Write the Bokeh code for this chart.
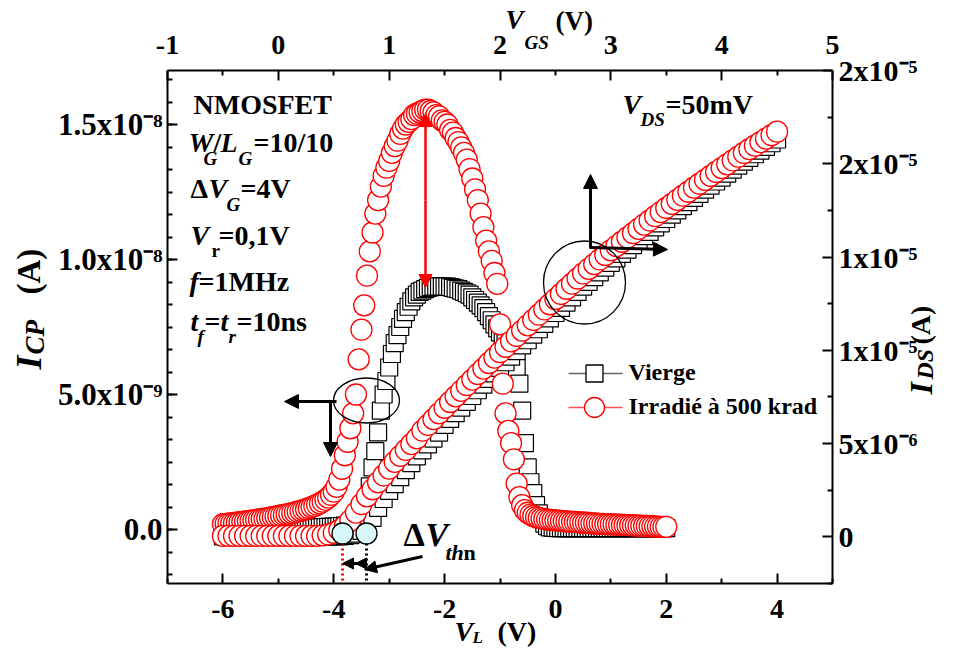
import math
from bokeh.plotting import figure
from bokeh.models import Range1d, LinearAxis, FixedTicker, Label, Arrow, NormalHead
from bokeh.embed import file_html
from bokeh.resources import INLINE

FONT = "Liberation Serif"

# ---------------- data ----------------
# charge pumping current I_CP (nA) vs V_L (V)
VL_CP = [
    -6.0, -5.95, -5.9, -5.85, -5.8, -5.75, -5.7, -5.65, -5.6, -5.55,
    -5.5, -5.45, -5.4, -5.35, -5.3, -5.25, -5.2, -5.15, -5.1, -5.05,
    -5.0, -4.95, -4.9, -4.85, -4.8, -4.75, -4.7, -4.65, -4.6, -4.55,
    -4.5, -4.45, -4.4, -4.35, -4.3, -4.25, -4.2, -4.15, -4.1, -4.05,
    -4.0, -3.95, -3.9, -3.85, -3.8, -3.75, -3.7, -3.65, -3.6, -3.55,
    -3.5, -3.45, -3.4, -3.35, -3.3, -3.25, -3.2, -3.15, -3.1, -3.05,
    -3.0, -2.95, -2.9, -2.85, -2.8, -2.75, -2.7, -2.65, -2.6, -2.55,
    -2.5, -2.45, -2.4, -2.35, -2.3, -2.25, -2.2, -2.15, -2.1, -2.05,
    -2.0, -1.95, -1.9, -1.85, -1.8, -1.75, -1.7, -1.65, -1.6, -1.55,
    -1.5, -1.45, -1.4, -1.35, -1.3, -1.25, -1.2, -1.15, -1.1, -1.05,
    -1.0, -0.95, -0.9, -0.85, -0.8, -0.75, -0.7, -0.65, -0.6, -0.55,
    -0.5, -0.45, -0.4, -0.35, -0.3, -0.25, -0.2, -0.15, -0.1, -0.05,
    0.0, 0.05, 0.1, 0.15, 0.2, 0.25, 0.3, 0.35, 0.4, 0.45,
    0.5, 0.55, 0.6, 0.65, 0.7, 0.75, 0.8, 0.85, 0.9, 0.95,
    1.0, 1.05, 1.1, 1.15, 1.2, 1.25, 1.3, 1.35, 1.4, 1.45,
    1.5, 1.55, 1.6, 1.65, 1.7, 1.75, 1.8, 1.85, 1.9, 1.95,
    2.0]

ICP_IRR = [
    0.20, 0.21, 0.22, 0.23, 0.24, 0.25, 0.27, 0.28, 0.30, 0.31,
    0.33, 0.34, 0.36, 0.37, 0.39, 0.40, 0.42, 0.44, 0.46, 0.48,
    0.50, 0.52, 0.54, 0.56, 0.58, 0.61, 0.63, 0.66, 0.69, 0.72,
    0.75, 0.79, 0.83, 0.87, 0.92, 0.97, 1.03, 1.10, 1.18, 1.28,
    1.40, 1.58, 1.85, 2.25, 2.75, 3.25, 3.75, 4.30, 5.00, 6.30,
    7.40, 8.30, 9.40, 10.30, 11.00, 11.70, 12.20, 12.70, 13.10, 13.40,
    13.65, 13.95, 14.20, 14.40, 14.65, 14.85, 15.00, 15.10, 15.20, 15.35,
    15.40, 15.45, 15.50, 15.55, 15.55, 15.50, 15.45, 15.35, 15.30, 15.15,
    15.10, 15.00, 14.80, 14.70, 14.50, 14.35, 14.15, 13.95, 13.70, 13.35,
    13.00, 12.60, 12.20, 11.70, 11.20, 10.70, 10.30, 9.95, 9.50, 9.10,
    7.60, 5.40, 4.30, 3.65, 3.20, 2.60, 1.70, 1.20, 0.90, 0.72,
    0.62, 0.55, 0.50, 0.46, 0.43, 0.41, 0.39, 0.37, 0.36, 0.35,
    0.34, 0.33, 0.32, 0.31, 0.30, 0.29, 0.28, 0.28, 0.27, 0.26,
    0.25, 0.25, 0.24, 0.23, 0.23, 0.22, 0.21, 0.21, 0.20, 0.20,
    0.19, 0.19, 0.18, 0.18, 0.17, 0.17, 0.16, 0.16, 0.15, 0.15,
    0.14, 0.14, 0.13, 0.13, 0.12, 0.12, 0.11, 0.11, 0.10, 0.10,
    0.10]

ICP_VIERGE = [
    0.05, 0.05, 0.05, 0.05, 0.05, 0.05, 0.05, 0.05, 0.05, 0.05,
    0.05, 0.05, 0.05, 0.05, 0.05, 0.05, 0.05, 0.05, 0.05, 0.05,
    0.05, 0.05, 0.05, 0.05, 0.05, 0.05, 0.05, 0.05, 0.05, 0.05,
    0.06, 0.06, 0.07, 0.07, 0.08, 0.08, 0.09, 0.09, 0.10, 0.10,
    0.11, 0.11, 0.12, 0.13, 0.14, 0.15, 0.17, 0.19, 0.22, 0.28,
    0.38, 0.60, 1.00, 1.60, 2.30, 2.90, 3.60, 4.40, 5.00, 5.50,
    6.00, 6.50, 6.90, 7.20, 7.50, 7.80, 8.05, 8.25, 8.45, 8.60,
    8.70, 8.80, 8.85, 8.90, 8.95, 8.98, 9.00, 9.00, 9.00, 9.00,
    9.00, 9.00, 8.98, 8.95, 8.92, 8.90, 8.85, 8.80, 8.75, 8.70,
    8.60, 8.50, 8.40, 8.30, 8.20, 8.05, 7.90, 7.75, 7.60, 7.45,
    7.30, 7.10, 6.90, 6.65, 6.40, 6.20, 6.00, 5.40, 4.40, 3.20,
    2.30, 1.75, 1.35, 0.90, 0.60, 0.38, 0.22, 0.12, 0.08, 0.07,
    0.06, 0.05, 0.05, 0.05, 0.05, 0.05, 0.05, 0.05, 0.05, 0.05,
    0.05, 0.05, 0.05, 0.05, 0.05, 0.05, 0.05, 0.05, 0.05, 0.05,
    0.05, 0.05, 0.05, 0.05, 0.05, 0.05, 0.05, 0.05, 0.05, 0.05,
    0.05, 0.05, 0.05, 0.05, 0.05, 0.05, 0.05, 0.05, 0.05, 0.05,
    0.05]

# drain current I_DS (uA) vs V_L (V)   (V_GS = (V_L + 5) / 2 on the top axis)
VL_DS = [
    -6.0, -5.9, -5.8, -5.7, -5.6, -5.5, -5.4, -5.3, -5.2, -5.1,
    -5.0, -4.9, -4.8, -4.7, -4.6, -4.5, -4.4, -4.3, -4.2, -4.1,
    -4.0, -3.9, -3.8, -3.7, -3.6, -3.5, -3.4, -3.3, -3.2, -3.1,
    -3.0, -2.9, -2.8, -2.7, -2.6, -2.5, -2.4, -2.3, -2.2, -2.1,
    -2.0, -1.9, -1.8, -1.7, -1.6, -1.5, -1.4, -1.3, -1.2, -1.1,
    -1.0, -0.9, -0.8, -0.7, -0.6, -0.5, -0.4, -0.3, -0.2, -0.1,
    0.0, 0.1, 0.2, 0.3, 0.4, 0.5, 0.6, 0.7, 0.8, 0.9,
    1.0, 1.1, 1.2, 1.3, 1.4, 1.5, 1.6, 1.7, 1.8, 1.9,
    2.0, 2.1, 2.2, 2.3, 2.4, 2.5, 2.6, 2.7, 2.8, 2.9,
    3.0, 3.1, 3.2, 3.3, 3.4, 3.5, 3.6, 3.7, 3.8, 3.9,
    4.0]

IDS_IRR = [
    0.05, 0.05, 0.05, 0.05, 0.05, 0.05, 0.05, 0.05, 0.05, 0.05,
    0.05, 0.05, 0.05, 0.05, 0.05, 0.05, 0.05, 0.05, 0.08, 0.13,
    0.22, 0.36, 0.58, 0.88, 1.30, 1.75, 2.17, 2.55, 2.92, 3.29,
    3.66, 4.02, 4.34, 4.66, 4.97, 5.28, 5.69, 6.00, 6.31, 6.62,
    6.92, 7.23, 7.53, 7.83, 8.13, 8.43, 8.73, 9.02, 9.32, 9.61,
    9.90, 10.19, 10.48, 10.77, 11.06, 11.34, 11.63, 11.91, 12.19, 12.47,
    12.75, 13.02, 13.30, 13.57, 13.85, 14.12, 14.37, 14.62, 14.87, 15.11,
    15.36, 15.59, 15.82, 16.05, 16.28, 16.51, 16.74, 16.96, 17.19, 17.41,
    17.63, 17.85, 18.07, 18.29, 18.50, 18.72, 18.93, 19.14, 19.35, 19.56,
    19.77, 19.97, 20.18, 20.38, 20.58, 20.78, 20.97, 21.16, 21.35, 21.53,
    21.72]

IDS_VIERGE = [
    0.03, 0.03, 0.03, 0.03, 0.03, 0.03, 0.03, 0.03, 0.03, 0.03,
    0.03, 0.03, 0.03, 0.03, 0.03, 0.03, 0.03, 0.03, 0.03, 0.03,
    0.03, 0.03, 0.05, 0.09, 0.17, 0.32, 0.58, 1.02, 1.55, 2.03,
    2.46, 2.83, 3.20, 3.58, 3.95, 4.32, 4.64, 4.96, 5.27, 5.59,
    6.00, 6.32, 6.63, 6.93, 7.24, 7.55, 7.86, 8.16, 8.47, 8.76,
    9.06, 9.36, 9.66, 9.96, 10.26, 10.54, 10.84, 11.13, 11.42, 11.71,
    12.00, 12.27, 12.56, 12.84, 13.13, 13.41, 13.67, 13.92, 14.18, 14.43,
    14.69, 14.93, 15.17, 15.40, 15.64, 15.88, 16.12, 16.35, 16.59, 16.81,
    17.04, 17.27, 17.50, 17.73, 17.94, 18.17, 18.39, 18.61, 18.83, 19.05,
    19.26, 19.47, 19.69, 19.90, 20.11, 20.32, 20.51, 20.71, 20.91, 21.10,
    21.30]

assert len(VL_CP) == len(ICP_IRR) == len(ICP_VIERGE)
assert len(VL_DS) == len(IDS_IRR) == len(IDS_VIERGE)

LEFT_TICKS = {0: "0.0", 5: "5.0x10\u207b\u2079", 10: "1.0x10\u207b\u2078", 15: "1.5x10\u207b\u2078"}
RIGHT_TICKS = {0: "0", 5: "5x10\u207b\u2076", 10: "1x10\u207b\u2075", 15: "1x10\u207b\u2075",
               20: "2x10\u207b\u2075", 25: "2x10\u207b\u2075"}
BOTTOM_TICKS = {-6: "-6", -4: "-4", -2: "-2", 0: "0", 2: "2", 4: "4"}
TOP_TICKS = {-1: "-1", 0: "0", 1: "1", 2: "2", 3: "3", 4: "4", 5: "5"}

# ---------------- layout ----------------
W, H = 938, 650
# pixel box of the axes rectangle on the canvas
BL, BR, BT, BB = 167, 832, 70, 583
XB = (-7.0, 5.0)      # V_L
YB = (-2.0, 17.0)     # I_CP (nA)
XT = (-1.0, 5.0)      # V_GS
YRt = (-2.5, 25.0)    # I_DS (uA)


def span(lo, hi, plo, phi, total):
    k = (hi - lo) / (phi - plo)
    return lo - plo * k, hi + (total - phi) * k


def vspan(lo, hi, ptop, pbot, total):
    k = (hi - lo) / (pbot - ptop)
    return lo - (total - pbot) * k, hi + ptop * k


xr = span(XB[0], XB[1], BL, BR, W)
yr = vspan(YB[0], YB[1], BT, BB, H)
xr_top = span(XT[0], XT[1], BL, BR, W)
yr_right = vspan(YRt[0], YRt[1], BT, BB, H)

p = figure(width=W, height=H, output_backend="svg", toolbar_location=None,
           x_range=Range1d(*xr), y_range=Range1d(*yr),
           x_axis_type=None, y_axis_type=None, min_border=0)
p.min_border_left = 0
p.min_border_right = 0
p.min_border_top = 0
p.min_border_bottom = 0
p.outline_line_color = None
p.background_fill_color = "white"
p.border_fill_color = "white"
p.extra_x_ranges = {"vgs": Range1d(*xr_top)}
p.extra_y_ranges = {"ids": Range1d(*yr_right)}


def X(px):
    return xr[0] + px / W * (xr[1] - xr[0])


def Y(py):
    return yr[1] - py / H * (yr[1] - yr[0])


def style_axis(ax, ticks, minor, overrides, size, standoff):
    ax.ticker = FixedTicker(ticks=ticks, minor_ticks=minor)
    ax.major_label_overrides = overrides
    ax.axis_line_width = 2
    ax.axis_line_color = "black"
    ax.major_tick_line_width = 2
    ax.minor_tick_line_width = 2
    ax.major_tick_in = 10
    ax.major_tick_out = 0
    ax.minor_tick_in = 5
    ax.minor_tick_out = 0
    ax.major_label_text_font = FONT
    ax.major_label_text_font_style = "bold"
    ax.major_label_text_font_size = f"{size}px"
    ax.major_label_text_color = "black"
    ax.major_label_standoff = standoff


bottom = LinearAxis(fixed_location=YB[0], bounds=XB)
style_axis(bottom, list(BOTTOM_TICKS), [-7, -5, -3, -1, 1, 3, 5], BOTTOM_TICKS, 28, 16)
p.add_layout(bottom, "below")

top = LinearAxis(x_range_name="vgs", fixed_location=YB[1], bounds=XT)
style_axis(top, list(TOP_TICKS), [-0.5, 0.5, 1.5, 2.5, 3.5, 4.5], TOP_TICKS, 28, 17)
p.add_layout(top, "above")

left = LinearAxis(fixed_location=XB[0], bounds=YB)
style_axis(left, list(LEFT_TICKS), [k * 5 / 6 for k in range(-2, 21)], LEFT_TICKS, 31, 5)
p.add_layout(left, "left")

right = LinearAxis(y_range_name="ids", fixed_location=XB[1], bounds=YRt)
style_axis(right, list(RIGHT_TICKS), [-2.5, 2.5, 7.5, 12.5, 17.5, 22.5], RIGHT_TICKS, 30, 6)
p.add_layout(right, "right")

# ---------------- data marks ----------------
p.scatter(VL_CP, ICP_VIERGE, marker="square", size=17, fill_color="white",
          line_color="black", line_width=1.2)
p.scatter(VL_DS, IDS_VIERGE, marker="square", size=17, fill_color="white",
          line_color="black", line_width=1.2, y_range_name="ids")
p.scatter(VL_CP, ICP_IRR, marker="circle", size=21, fill_color="white",
          line_color="#ff0000", line_width=1.3)
p.scatter(VL_DS, IDS_IRR, marker="circle", size=21, fill_color="white",
          line_color="#ff0000", line_width=1.3, y_range_name="ids")

# ---------------- annotations ----------------
BASE_SHIFT = 0.39   # renderer places the alphabetic baseline ~0.39 em low


def txt(px, py, s, size, style="bold", angle=0.0, color="black"):
    if angle == 0.0:
        py = py - BASE_SHIFT * size
    else:
        px = px - BASE_SHIFT * size
    p.add_layout(Label(x=X(px), y=Y(py), text=s, text_font=FONT,
                       text_font_size=f"{size}px", text_font_style=style,
                       text_color=color, text_baseline="alphabetic",
                       text_align="left", angle=angle))


def arrow(x0, y0, x1, y1, color="black", width=3, size=14):
    head = NormalHead(size=size, fill_color=color, line_color=color, line_width=1)
    p.add_layout(Arrow(x_start=X(x0), y_start=Y(y0), x_end=X(x1), y_end=Y(y1),
                       end=head, line_color=color, line_width=width))


# parameter block
txt(193, 115, "NMOSFET", 28)
txt(188, 153, "W", 28, "bold italic")
txt(203, 165, "G", 19, "bold italic")
txt(213, 153, "/", 28)
txt(220, 153, "L", 28, "bold italic")
txt(238, 165, "G", 19, "bold italic")
txt(253, 153, "=10/10", 28)
txt(190, 199, "\u0394", 28)
txt(208, 199, "V", 28, "bold italic")
txt(226, 211, "G", 19, "bold italic")
txt(240, 199, "=4V", 28)
txt(190, 246, "V", 28, "bold italic")
txt(211, 257, "r", 19)
txt(218, 246, "=0,1V", 28)
txt(189, 292, "f", 28, "bold italic")
txt(198, 292, "=1MHz", 28)
txt(190, 332, "t", 28, "bold italic")
txt(197, 343, "f", 19, "bold italic")
txt(204, 332, "=", 28)
txt(220, 332, "t", 28, "bold italic")
txt(228, 343, "r", 19, "bold italic")
txt(236, 332, "=10ns", 28)

# V_DS
txt(622, 115, "V", 28, "bold italic")
txt(640, 126, "DS", 19, "bold italic")
txt(665, 115, "=50mV", 28)

# axis titles
txt(454, 642, "V", 28, "bold italic")
txt(472, 644, "L", 17, "bold italic")
txt(497, 642, "(V)", 28)

txt(505, 30, "V", 27, "bold italic")
txt(524, 49, "GS", 19, "bold italic")
txt(555, 31, "(V)", 27)

ROT = math.pi / 2
txt(43, 369, "I", 36, "bold italic", angle=ROT)
txt(45, 354, "CP", 27, "bold italic", angle=ROT)
txt(41, 294, "(A)", 33, angle=ROT)

txt(933, 394, "I", 32, "bold italic", angle=ROT)
txt(934, 379, "DS", 24, "bold italic", angle=ROT)
txt(931, 344, "(A)", 28, angle=ROT)

# legend (drawn by hand, Origin style)
p.segment(x0=[X(568)], y0=[Y(373)], x1=[X(622)], y1=[Y(373)], line_color="#666666", line_width=1.5)
p.scatter([X(594)], [Y(373)], marker="square", size=17, fill_color="white", line_color="black", line_width=1.3)
p.segment(x0=[X(568)], y0=[Y(407)], x1=[X(622)], y1=[Y(407)], line_color="#ff5050", line_width=1.5)
p.scatter([X(594)], [Y(407)], marker="circle", size=20, fill_color="white", line_color="#ff0000", line_width=1.3)
txt(628, 381, "Vierge", 24)
txt(628, 415, "Irradi\u00e9 \u00e0 500 krad", 24)

# ellipse marking I_CP curves with arrows to left/bottom axes
p.ellipse(x=[X(366)], y=[Y(400)], width=66, height=45, width_units="screen",
          height_units="screen", fill_color=None, line_color="black", line_width=1.3)
arrow(336, 401, 284, 401)
arrow(330, 401, 330, 456)

# circle marking I_DS curves with arrows to top/right axes
p.ellipse(x=[X(584)], y=[Y(282)], width=82, height=83, width_units="screen",
          height_units="screen", fill_color=None, line_color="black", line_width=1.3)
arrow(590, 247, 590, 174)
arrow(589, 247, 667, 249)

# red double arrow between the two I_CP peaks
arrow(425, 200, 425, 113, color="#ff0000", width=2.5, size=13)
arrow(425, 200, 425, 287, color="#ff0000", width=2.5, size=13)

# threshold markers
p.segment(x0=[X(342)], y0=[Y(533)], x1=[X(342)], y1=[Y(583)], line_color="#ff0000",
          line_width=3, line_dash="2 3")
p.segment(x0=[X(366)], y0=[Y(533)], x1=[X(366)], y1=[Y(583)], line_color="black",
          line_width=3, line_dash="2 3")
p.scatter([X(342), X(366)], [Y(533), Y(533)], marker="circle", size=21,
          fill_color="#d6f6f8", line_color="black", line_width=1.3)
arrow(366, 563, 342, 563, size=11)
arrow(366, 563, 355, 563, size=11)
arrow(422, 556, 364, 569, size=12)
txt(403, 547, "\u0394", 34)
txt(425, 547, "V", 34, "bold italic")
txt(445, 561, "th", 22, "bold italic")
txt(463, 561, "n", 22)

open("out.html", "w").write(file_html(p, INLINE))
